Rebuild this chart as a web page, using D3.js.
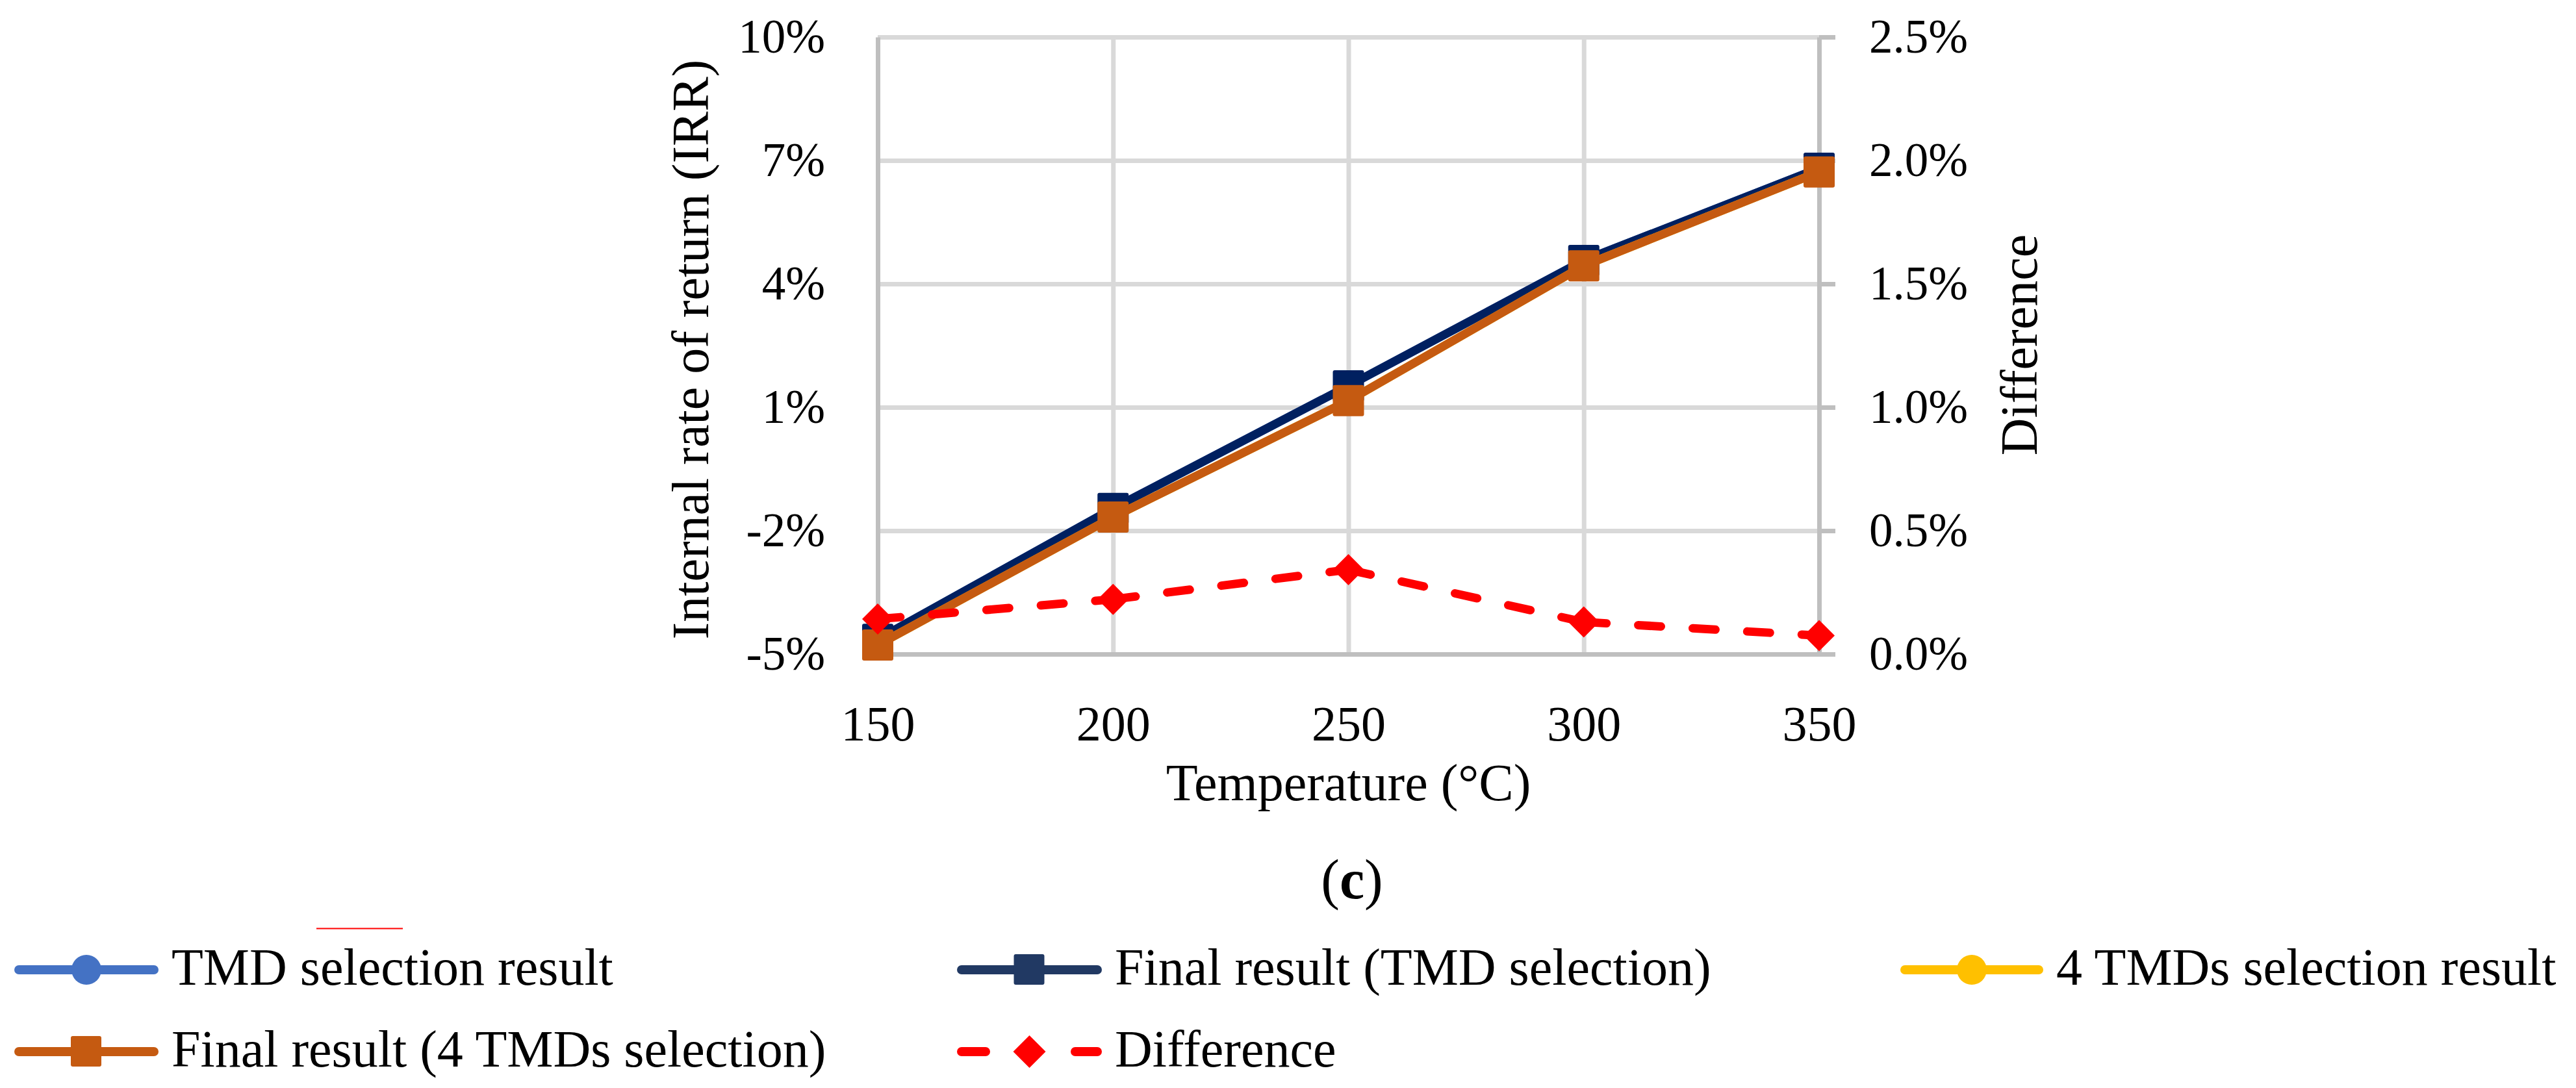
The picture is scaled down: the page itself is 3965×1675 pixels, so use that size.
<!DOCTYPE html>
<html>
<head>
<meta charset="utf-8">
<script src="https://cdn.jsdelivr.net/npm/d3@7"></script>
<style>
body { margin: 0; background: #fff; }
text { font-family: "Palatino Linotype", "Book Antiqua", Palatino, "Liberation Serif", serif; fill: #000; }
</style>
</head>
<body>
<div id="chart"></div>
<script>
// IRR vs temperature, panel (c)
var temps = [150, 200, 250, 300, 350];
var tmdResult = [-4.64, -1.46, 1.52, 4.57, 6.81];
var finalTmd = [-4.64, -1.46, 1.52, 4.57, 6.81];
var tmd4Result = [-4.78, -1.67, 1.16, 4.44, 6.72];
var final4 = [-4.78, -1.67, 1.16, 4.44, 6.72];
var difference = [0.142, 0.222, 0.342, 0.130, 0.075];
var irrTicks = [-5, -2, 1, 4, 7, 10];
var diffTicks = [0, 0.5, 1, 1.5, 2, 2.5];
var legendNames = ["TMD selection result", "Final result (TMD selection)", "4 TMDs selection result",
  "Final result (4 TMDs selection)", "Difference"];

var width = 3965, height = 1675;
var plotLeft = 1351, plotRight = 2800, plotTop = 57, plotBottom = 1007;
var gridColor = "#d9d9d9", axisColor = "#bfbfbf";

var svg = d3.select("#chart")
  .append("svg")
  .attr("width", width)
  .attr("height", height)
  .style("background", "#fff");

var x = d3.scaleLinear().domain([150, 350]).range([plotLeft, plotRight]);
var y = d3.scaleLinear().domain([-5, 10]).range([plotBottom, plotTop]);
var y2 = d3.scaleLinear().domain([0, 2.5]).range([plotBottom, plotTop]);

// gridlines
var hGrid = svg.append("g")
  .attr("transform", "translate(" + plotLeft + ",0)")
  .call(d3.axisLeft(y).tickValues(irrTicks).tickSize(-(plotRight - plotLeft)).tickFormat(""));
var vGrid = svg.append("g")
  .attr("transform", "translate(0," + plotBottom + ")")
  .call(d3.axisBottom(x).tickValues([200, 250, 300]).tickSize(-(plotBottom - plotTop)).tickFormat(""));
[hGrid, vGrid].forEach(function(g) {
  g.select(".domain").remove();
  g.selectAll("line").attr("stroke", gridColor).attr("stroke-width", 7);
});

// axes
var leftAxis = svg.append("g")
  .attr("transform", "translate(" + plotLeft + ",0)")
  .call(d3.axisLeft(y).tickValues(irrTicks).tickSize(0).tickSizeOuter(0).tickPadding(81)
    .tickFormat(function(d) { return d + "%"; }));
var rightAxis = svg.append("g")
  .attr("transform", "translate(" + plotRight + ",0)")
  .call(d3.axisRight(y2).tickValues(diffTicks).tickSize(25).tickSizeOuter(0).tickPadding(52)
    .tickFormat(function(d) { return d.toFixed(1) + "%"; }));
var bottomAxis = svg.append("g")
  .attr("transform", "translate(0," + plotBottom + ")")
  .call(d3.axisBottom(x).tickValues(temps).tickSize(0).tickSizeOuter(0).tickPadding(79));

[leftAxis, rightAxis, bottomAxis].forEach(function(g) {
  g.select(".domain").attr("stroke", axisColor).attr("stroke-width", 7);
  g.selectAll(".tick line").attr("stroke", axisColor).attr("stroke-width", 7);
  g.selectAll("text").attr("fill", "#000")
    .style("font-family", "'Palatino Linotype', 'Book Antiqua', Palatino, 'Liberation Serif', serif");
});
leftAxis.selectAll("text").style("font-size", "73px");
rightAxis.selectAll("text").style("font-size", "73px");
bottomAxis.selectAll("text").style("font-size", "76px");

// series
var line = d3.line()
  .x(function(d, i) { return x(temps[i]); })
  .y(function(d) { return y(d); });

function drawSeries(values, color, marker) {
  svg.append("path")
    .datum(values)
    .attr("d", line)
    .attr("fill", "none")
    .attr("stroke", color)
    .attr("stroke-width", 13)
    .attr("stroke-linejoin", "round");
  var g = svg.append("g");
  if (marker === "circle") {
    g.selectAll("circle").data(values).enter().append("circle")
      .attr("cx", function(d, i) { return x(temps[i]); })
      .attr("cy", function(d) { return y(d); })
      .attr("r", 23)
      .attr("fill", color);
  } else {
    g.selectAll("rect").data(values).enter().append("rect")
      .attr("x", function(d, i) { return x(temps[i]) - 24; })
      .attr("y", function(d) { return y(d) - 24; })
      .attr("width", 48)
      .attr("height", 48)
      .attr("rx", 3)
      .attr("fill", color);
  }
}

drawSeries(tmdResult, "#4472c4", "circle");
drawSeries(finalTmd, "#002060", "square");
drawSeries(tmd4Result, "#ffc000", "circle");
drawSeries(final4, "#c55a11", "square");

// difference on secondary axis, dash restarts on each segment like excel
var diffPts = difference.map(function(d, i) { return [x(temps[i]), y2(d)]; });
svg.append("g").selectAll("line").data(d3.pairs(diffPts)).enter().append("line")
  .attr("x1", function(p) { return p[0][0]; })
  .attr("y1", function(p) { return p[0][1]; })
  .attr("x2", function(p) { return p[1][0]; })
  .attr("y2", function(p) { return p[1][1]; })
  .attr("stroke", "#ff0000")
  .attr("stroke-width", 13)
  .attr("stroke-linecap", "round")
  .attr("stroke-dasharray", "35,49");

var diamond = d3.symbol().type(d3.symbolSquare).size(1152);
svg.append("g").selectAll("path").data(diffPts).enter().append("path")
  .attr("d", diamond)
  .attr("transform", function(p) { return "translate(" + p[0] + "," + p[1] + ") rotate(45)"; })
  .attr("fill", "#ff0000");

// axis titles
svg.append("text")
  .attr("transform", "translate(1090,538) rotate(-90)")
  .attr("text-anchor", "middle")
  .style("font-size", "80px")
  .text("Internal rate of return (IRR)");

svg.append("text")
  .attr("transform", "translate(3135,531) rotate(-90)")
  .attr("text-anchor", "middle")
  .style("font-size", "80px")
  .text("Difference");

svg.append("text")
  .attr("x", (plotLeft + plotRight) / 2)
  .attr("y", 1232)
  .attr("text-anchor", "middle")
  .style("font-size", "80px")
  .text("Temperature (°C)");

var cap = svg.append("text")
  .attr("x", 2081)
  .attr("y", 1383)
  .attr("text-anchor", "middle")
  .style("font-size", "86px");
cap.append("tspan").text("(");
cap.append("tspan").style("font-weight", "bold").text("c");
cap.append("tspan").text(")");

// stray red stroke above the legend in the original
svg.append("line")
  .attr("x1", 487).attr("x2", 620)
  .attr("y1", 1429.5).attr("y2", 1429.5)
  .attr("stroke", "#ff0000")
  .attr("stroke-width", 2);

// legend
var legendColors = ["#4472c4", "#213963", "#ffc000", "#c55a11", "#ff0000"];
var legendMarks = ["circle", "square", "circle", "square", "diamond"];
var legendPos = [[29, 237, 1493], [1480, 1689, 1493], [2932, 3138, 1493], [29, 237, 1619], [1480, 1689, 1619]];

legendNames.forEach(function(name, i) {
  var p = legendPos[i];
  var g = svg.append("g");
  var cx = (p[0] + p[1]) / 2;
  if (legendMarks[i] === "diamond") {
    g.append("line")
      .attr("x1", p[0]).attr("x2", p[1])
      .attr("y1", p[2]).attr("y2", p[2])
      .attr("stroke", legendColors[i])
      .attr("stroke-width", 14)
      .attr("stroke-linecap", "round")
      .attr("stroke-dasharray", "37,138");
    g.append("path")
      .attr("d", d3.symbol().type(d3.symbolSquare).size(1250))
      .attr("transform", "translate(" + cx + "," + p[2] + ") rotate(45)")
      .attr("fill", legendColors[i]);
  } else {
    g.append("line")
      .attr("x1", p[0]).attr("x2", p[1])
      .attr("y1", p[2]).attr("y2", p[2])
      .attr("stroke", legendColors[i])
      .attr("stroke-width", 14)
      .attr("stroke-linecap", "round");
    if (legendMarks[i] === "circle") {
      g.append("circle").attr("cx", cx).attr("cy", p[2]).attr("r", 23).attr("fill", legendColors[i]);
    } else {
      g.append("rect")
        .attr("x", cx - 24).attr("y", p[2] - 24)
        .attr("width", 47).attr("height", 47).attr("rx", 3)
        .attr("fill", legendColors[i]);
    }
  }
  g.append("text")
    .attr("x", p[1] + 27)
    .attr("y", p[2] + 23)
    .style("font-size", "80px")
    .text(name);
});
</script>
</body>
</html>
